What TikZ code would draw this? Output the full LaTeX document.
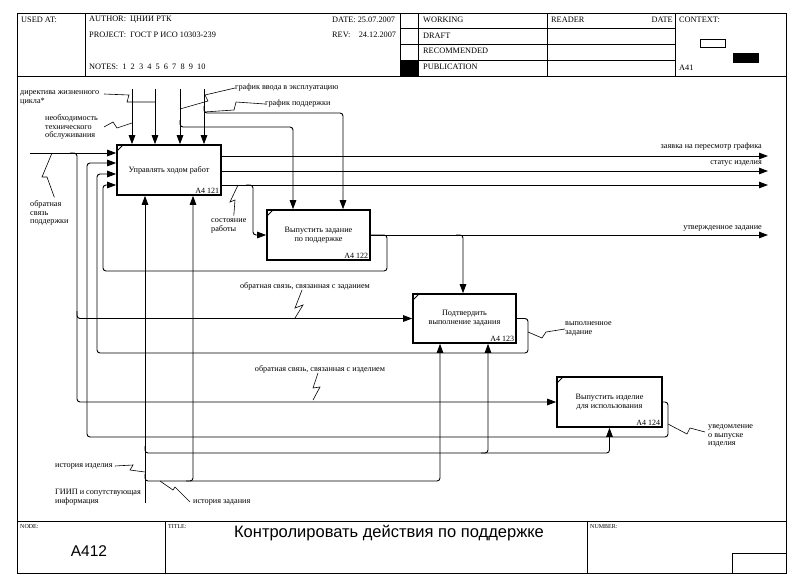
\documentclass[tikz,border=0pt]{standalone}
\usepackage{fontspec}
\setmainfont{Liberation Serif}
\newfontfamily\arialfont{Liberation Sans}
\usetikzlibrary{arrows.meta}

\begin{document}
\begin{tikzpicture}[x=1pt, y=-1pt,
    func/.style={draw, line width=1.6pt, fill=white, align=center, inner sep=0pt,
                 font=\fontsize{8.2}{9}\selectfont,
                 path picture={\draw[line width=0.8pt]
                   ([yshift=-6pt]path picture bounding box.north west) --
                   ([xshift=6pt]path picture bounding box.north west);}},
    fnum/.style={anchor=south east, font=\fontsize{8}{8}\selectfont, inner sep=2.5pt},
    lbl/.style={font=\fontsize{8.2}{8.6}\selectfont, align=left, inner sep=0pt},
    hdr/.style={font=\fontsize{8.3}{9}\selectfont, anchor=west, inner sep=0pt},
    tiny/.style={font=\fontsize{6}{6}\selectfont, anchor=north west, inner sep=0pt},
    arr/.style={-{Triangle[length=9pt, width=6.5pt]}, line width=0.9pt, rounded corners=3pt},
    squig/.style={line width=0.6pt},
    frm/.style={line width=0.9pt},
]
\useasboundingbox (0,0) rectangle (797,578);

% ── Frame, header and footer ──────────────────────────
\draw[frm] (17,13) rectangle (786,573);
\draw[frm] (17,76) -- (786,76);
\draw[frm] (17,521) -- (786,521);
\foreach \x in {85,400,418,547,675} \draw[frm] (\x,13) -- (\x,76);
\foreach \y in {28,44,60} \draw[frm] (400,\y) -- (675,\y);
\fill (400,60) rectangle (418,76);
\draw[frm] (700,39) rectangle (725,47);
\fill (733,53) rectangle (759,63);
\foreach \x in {165,587} \draw[frm] (\x,521) -- (\x,573);
\draw[frm] (732,553) rectangle (786,573);

\node[hdr] (usedat)  at (21,20) {USED AT:};
\node[hdr] (author)  at (89,20) {AUTHOR:\ \ ЦНИИ РТК};
\node[hdr] (project) at (89,35) {PROJECT:\ \ ГОСТ Р ИСО 10303-239};
\node[hdr] (notes)   at (89,67) {NOTES:\ \ 1\ \ 2\ \ 3\ \ 4\ \ 5\ \ 6\ \ 7\ \ 8\ \ 9\ \ 10};
\node[hdr] (date)    at (332,20) {DATE:\ 25.07.2007};
\node[hdr] (rev)     at (332,35) {REV:\ \ \ \ 24.12.2007};
\node[hdr] (working) at (423,20) {WORKING};
\node[hdr] (draft)   at (423,36) {DRAFT};
\node[hdr] (recomm)  at (423,51) {RECOMMENDED};
\node[hdr] (publ)    at (423,67) {PUBLICATION};
\node[hdr] (reader)  at (551,20) {READER};
\node[hdr, anchor=east] (rdate) at (673,20) {DATE};
\node[hdr] (context) at (679,20) {CONTEXT:};
\node[hdr] (ctxnode) at (679,68) {A41};

\node[tiny] (nodehd)  at (20,524)  {NODE:};
\node[tiny] (titlehd) at (168,524) {TITLE:};
\node[tiny] (numhd)   at (590,524) {NUMBER:};
\node[font=\arialfont\fontsize{15.5}{16}\selectfont] (nodeno) at (89,551) {A412};
\node[font=\arialfont\fontsize{16.5}{17}\selectfont] (title) at (389,533)
    {Контролировать действия по поддержке};

% ── Functions ─────────────────────────────────────────
\node[func, minimum width=104, minimum height=50] (upr) at (169,170)
    {Управлять ходом работ};
\node[fnum] (upr-n) at (upr.south east) {A4 121};
\node[func, minimum width=103, minimum height=50] (vyp) at (318.5,235)
    {Выпустить задание\\по поддержке};
\node[fnum] (vyp-n) at (vyp.south east) {A4 122};
\node[func, minimum width=103, minimum height=49] (pod) at (464.5,318.5)
    {Подтвердить\\выполнение задания};
\node[fnum] (pod-n) at (pod.south east) {A4 123};
\node[func, minimum width=105, minimum height=50] (izd) at (609.5,402)
    {Выпустить изделие\\для использования};
\node[fnum] (izd-n) at (izd.south east) {A4 124};

% ── Controls (from above) ─────────────────────────────
\coordinate (kn) at (132,89);
\coordinate (kd) at (155,89);
\coordinate (kv) at (180,89);
\coordinate (kp) at (204,89);
\foreach \c in {kn,kd,kv,kp} \draw[arr] (\c) -- (\c |- upr.north);
\draw[arr] (kv |- 0,120) -- (kv |- 0,127) -- (293,127) -- (vyp.north -| 293,0);
\draw[arr] (kp |- 0,106) -- (kp |- 0,113) -- (343,113) -- (vyp.north -| 343,0);
\draw[arr] (456,235) -- (463,235) -- (pod.north -| 463,0);

% ── Inputs and feedback ───────────────────────────────
\coordinate (in1) at (30,153);
\draw[arr] (in1) -- (upr.west |- in1);
\draw[arr] (70,153) -- (77,153) -- (77,0 |- izd.west) -- (izd.west);
\draw[arr] (77,311) -- (77,0 |- pod.west) -- (pod.west);
\draw[arr] (izd.east) -- (668,402) -- (668,437) -- (87,437) -- (87,163) -- (upr.west |- 0,163);
\draw[arr] (pod.east) -- (528,318.5) -- (528,353) -- (97,353) -- (97,174) -- (upr.west |- 0,174);
\draw[arr] (vyp.east) -- (387,235) -- (387,271) -- (103,271) -- (103,185) -- (upr.west |- 0,185);
\draw[arr] (246,185) -- (253,185) -- (253,235) -- (vyp.west);

% ── Outputs ───────────────────────────────────────────
\coordinate (out) at (768,0);
\foreach \y in {156,171,185} \draw[arr] (upr.east |- 0,\y) -- (out |- 0,\y);
\draw[arr] (vyp.east) -- (out |- vyp.east);

% ── Mechanisms (from below) ───────────────────────────
\coordinate (mg) at (145,503);
\draw[arr] (mg) -- (mg |- upr.south);
\draw[arr] (145,446) -- (145,453) -- (izd.south |- 0,453) -- (izd.south);
\draw[arr] (481,453) -- (488,453) -- (pod.south -| 488,0);
\draw[arr] (145,474) -- (145,481) -- (440,481) -- (pod.south -| 440,0);
\draw[arr] (186,481) -- (193,481) -- (upr.south -| 193,0);

% ── Arrow labels ──────────────────────────────────────
\node[lbl, anchor=west] (ldir)  at (20,98)  {директива жизненного\\цикла*};
\node[lbl, anchor=west] (lneo)  at (45,127) {необходимость\\технического\\обслуживания};
\node[lbl, anchor=west] (lvvod) at (235,88) {график ввода в эксплуатацию};
\node[lbl, anchor=west] (lpodd) at (265,104) {график поддержки};
\node[lbl, anchor=west] (lobr)  at (30,213) {обратная\\связь\\поддержки};
\node[lbl, anchor=west] (lsost) at (211,226) {состояние\\работы};
\node[lbl] (lzad) at (305,286) {обратная связь, связанная с заданием};
\node[lbl] (lizd) at (320,369) {обратная связь, связанная с изделием};
\node[lbl, anchor=east] (lzap)  at (762,147) {заявка на пересмотр графика};
\node[lbl, anchor=east] (lstat) at (762,163) {статус изделия};
\node[lbl, anchor=east] (lutv)  at (762,228) {утвержденное задание};
\node[lbl, anchor=west] (lvyp)  at (565,329) {выполненное\\задание};
\node[lbl, anchor=west] (luved) at (708,436) {уведомление\\о выпуске\\изделия};
\node[lbl, anchor=west] (lizh)  at (55,466) {история изделия};
\node[lbl, anchor=west] (lgiip) at (55,497) {ГИИП и сопутствующая\\информация};
\node[lbl, anchor=west] (lzah)  at (193,502) {история задания};

% ── Squiggles ─────────────────────────────────────────
\draw[squig] (104,94) -- (129,95) -- (127,102) -- (kd |- 0,102);
\draw[squig] (104,127) -- (113,122) -- (117,128) -- (kn |- 0,123);
\draw[squig] (lvvod.west) -- (205,95) -- (208,101) -- (kv |- 0,109);
\draw[squig] (lpodd.west) -- (236,102) -- (234,110) -- (kp |- 0,112);
\draw[squig] (lobr.north) ++(5,-3) -- (47,177) -- (42,177) -- (in1 -| 52,0);
\draw[squig] (lsost.north) ++(5,-3) -- (235,200) -- (230,202) -- (238,185);
\draw[squig] (lzad.south) ++(-3,0) -- (295,308) -- (303,305) -- (295,318);
\draw[squig] (lizd.south) ++(-2,0) -- (313,388) -- (320,387) -- (313,400);
\draw[squig] (lvyp.west) -- (546,332) -- (542,338) -- (528,332);
\draw[squig] (luved.west) ++(-3,-4) -- (690,428) -- (687,434) -- (668,424);
\draw[squig] (lizh.east) ++(2,0) -- (133,465) -- (130,470) -- (145,472);
\draw[squig] (lzah.west) ++(-3,0) -- (175,487) -- (173,490) -- (160,481);

\end{tikzpicture}
\end{document}
